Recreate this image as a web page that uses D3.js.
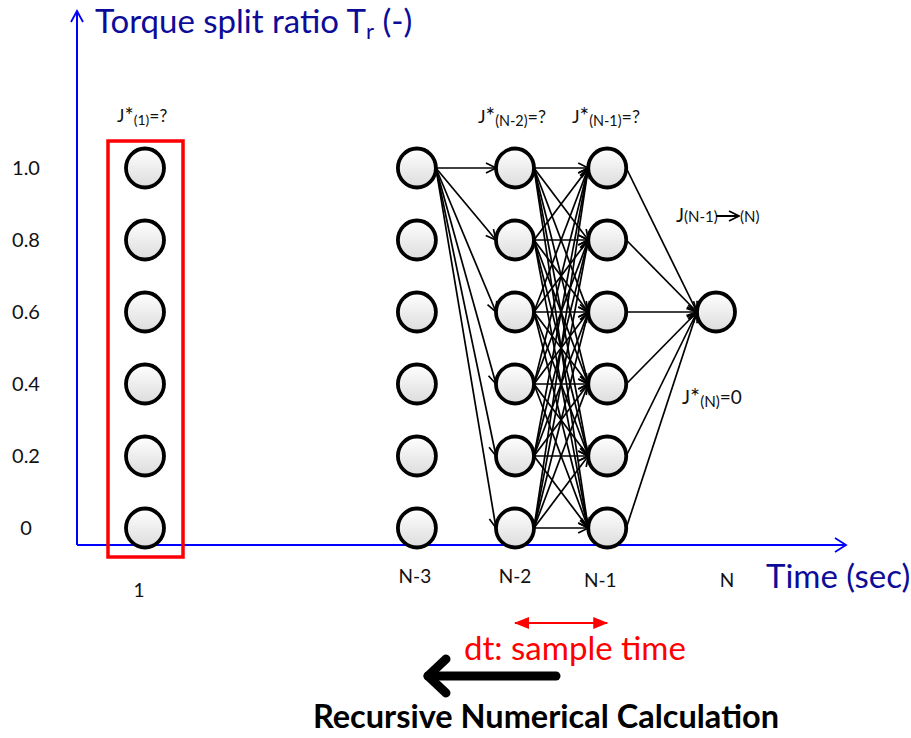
<!DOCTYPE html>
<html><head><meta charset="utf-8">
<script src="https://cdn.jsdelivr.net/npm/d3@7"></script>
<style>body{margin:0;background:#fff}svg{display:block}text{font-family:Lato,"Open Sans",sans-serif}</style>
</head><body>
<script>
// ---- data ----
const ratioTicks = [0, 0.2, 0.4, 0.6, 0.8, 1.0];
const ratioTickLabels = ["0", "0.2", "0.4", "0.6", "0.8", "1.0"];
const stages = ["1", "N-3", "N-2", "N-1", "N"];
const stageTime = [0, 2.8, 3.81, 4.76, 5.88];   // relative time position of each stage
const stageRatios = [ratioTicks, ratioTicks, ratioTicks, ratioTicks, [0.6]];
const fromN3 = [1.0];                 // only the top N-3 node is expanded
const yAxisTitle = "Torque split ratio T";
const xAxisTitle = "Time (sec)";

const W = 911, H = 738;
const svg = d3.select("body").append("svg").attr("width", W).attr("height", H);
const x = d3.scaleLinear().domain([0, 5.88]).range([145, 716]);
const y = d3.scaleLinear().domain([0, 1]).range([528, 168]);
const R = 19;

const defs = svg.append("defs");
const g1 = defs.append("linearGradient").attr("id", "nodeGrad").attr("x1", 0).attr("y1", 0).attr("x2", 0).attr("y2", 1);
g1.append("stop").attr("offset", "0%").attr("stop-color", "#ffffff");
g1.append("stop").attr("offset", "100%").attr("stop-color", "#dcdcdc");
defs.append("marker").attr("id", "arr").attr("markerUnits", "userSpaceOnUse")
  .attr("viewBox", "0 0 12 12").attr("refX", 11).attr("refY", 6).attr("markerWidth", 12).attr("markerHeight", 12)
  .attr("orient", "auto").append("path").attr("d", "M1,1 L11,6 L1,11").attr("fill", "none").attr("stroke", "#000").attr("stroke-width", 1.7);
defs.append("marker").attr("id", "redArr").attr("markerUnits", "userSpaceOnUse")
  .attr("viewBox", "0 0 15 12").attr("refX", 14).attr("refY", 6).attr("markerWidth", 15).attr("markerHeight", 12)
  .attr("orient", "auto-start-reverse").append("path").attr("d", "M0,0 L15,6 L0,12 Z").attr("fill", "#ff0000");

// ---- axes ----
const blue = "#0000ff", navy = "#0c0c99";
const ax = svg.append("g").attr("stroke", blue).attr("stroke-width", 2).attr("fill", "none");
ax.append("line").attr("x1", 77).attr("y1", 545).attr("x2", 77).attr("y2", 11);
ax.append("polyline").attr("points", "71,22 77,11 83,22").attr("stroke-width", 1.8);
ax.append("line").attr("x1", 77).attr("y1", 545).attr("x2", 845).attr("y2", 545);
ax.append("polyline").attr("points", "835,538 846,545 835,552").attr("stroke-width", 1.8);

const yt = svg.append("text").attr("x", 95).attr("y", 33).attr("fill", navy).attr("font-size", 33);
yt.append("tspan").text(yAxisTitle);
yt.append("tspan").attr("font-size", 22).attr("dy", 6).text("r");
yt.append("tspan").attr("dy", -6).text(" (-)");
svg.append("text").attr("x", 766).attr("y", 588).attr("fill", navy).attr("font-size", 33).text(xAxisTitle);

// y tick labels
svg.selectAll(".ytick").data(ratioTicks).join("text")
  .attr("x", 26).attr("y", d => y(d) + 7).attr("text-anchor", "middle").attr("font-size", 20).attr("fill", "#111")
  .text((d, i) => ratioTickLabels[i]);

// x stage labels
const stageLabelY = [597, 583, 583, 587, 587];
const stageLabelDx = [-6, -2, 0, -7, 11];
svg.selectAll(".xtick").data(stages).join("text")
  .attr("x", (d, i) => x(stageTime[i]) + stageLabelDx[i]).attr("y", (d, i) => stageLabelY[i])
  .attr("text-anchor", "middle").attr("font-size", 19).attr("fill", "#111").text(d => d);

// ---- edges ----
const edges = [];
fromN3.forEach(a => ratioTicks.forEach(b => edges.push({ s: 1, a, t: 2, b })));
ratioTicks.forEach(a => ratioTicks.forEach(b => edges.push({ s: 2, a, t: 3, b })));
ratioTicks.forEach(a => edges.push({ s: 3, a, t: 4, b: 0.6 }));
svg.append("g").selectAll("line").data(edges).join("line")
  .attr("x1", d => x(stageTime[d.s]) + R).attr("y1", d => y(d.a))
  .attr("x2", d => x(stageTime[d.t]) - R).attr("y2", d => y(d.b))
  .attr("stroke", "#000").attr("stroke-width", 1.7).attr("marker-end", "url(#arr)");

// ---- nodes ----
const nodes = [];
stages.forEach((s, i) => stageRatios[i].forEach(r => nodes.push({ i, r })));
svg.append("g").selectAll("ellipse").data(nodes).join("ellipse")
  .attr("cx", d => x(stageTime[d.i])).attr("cy", d => y(d.r))
  .attr("rx", R).attr("ry", R + 0.5)
  .attr("fill", "url(#nodeGrad)").attr("stroke", "#000").attr("stroke-width", 3.8);

// red frame around stage 1
svg.append("rect").attr("x", 108).attr("y", 141).attr("width", 75).attr("height", 416)
  .attr("fill", "none").attr("stroke", "#ff0000").attr("stroke-width", 3.5);

// ---- J labels ----
function jLabel(px, py, size, main, sub, tail) {
  const t = svg.append("text").attr("x", px).attr("y", py).attr("font-size", size).attr("fill", "#111");
  t.append("tspan").text(main.slice(0, 1));
  t.append("tspan").attr("font-size", size * 1.25).attr("dy", 1).text(main.slice(1));
  t.append("tspan").attr("font-size", size * 0.8).attr("dy", 2).text(sub);
  t.append("tspan").attr("dy", -3).text(tail);
  return t;
}
jLabel(117, 122, 17.5, "J*", "(1)", "=?");
jLabel(478, 123, 18, "J*", "(N-2)", "=?");
jLabel(572, 123, 18, "J*", "(N-1)", "=?");
jLabel(682, 404, 19, "J*", "(N)", "=0");
const jt = svg.append("text").attr("x", 676).attr("y", 222).attr("font-size", 19).attr("fill", "#111");
jt.append("tspan").text("J");
jt.append("tspan").attr("font-size", 15).text("(N-1)");
svg.append("line").attr("x1", 716).attr("y1", 216).attr("x2", 739).attr("y2", 216)
  .attr("stroke", "#000").attr("stroke-width", 2).attr("marker-end", "url(#arr)");
svg.append("text").attr("x", 740).attr("y", 222).attr("font-size", 15).attr("fill", "#111").text("(N)");

// ---- dt arrow ----
svg.append("line").attr("x1", x(stageTime[2])).attr("y1", 623).attr("x2", x(stageTime[3])).attr("y2", 623)
  .attr("stroke", "#ff0000").attr("stroke-width", 2.2)
  .attr("marker-start", "url(#redArr)").attr("marker-end", "url(#redArr)");
svg.append("text").attr("x", 575).attr("y", 660).attr("text-anchor", "middle").attr("font-size", 33).attr("fill", "#ff0000").text("dt: sample time");

// ---- recursive arrow ----
const ba = svg.append("g").attr("stroke", "#000").attr("stroke-width", 9).attr("stroke-linecap", "round").attr("stroke-linejoin", "round").attr("fill", "none");
ba.append("line").attr("x1", 556).attr("y1", 676).attr("x2", 428).attr("y2", 676);
ba.append("polyline").attr("points", "446,659 428,676 446,693");
svg.append("text").attr("x", 546).attr("y", 728).attr("text-anchor", "middle").attr("font-size", 32.5).attr("font-weight", "bold").attr("fill", "#000").text("Recursive Numerical Calculation");
</script>
</body></html>
